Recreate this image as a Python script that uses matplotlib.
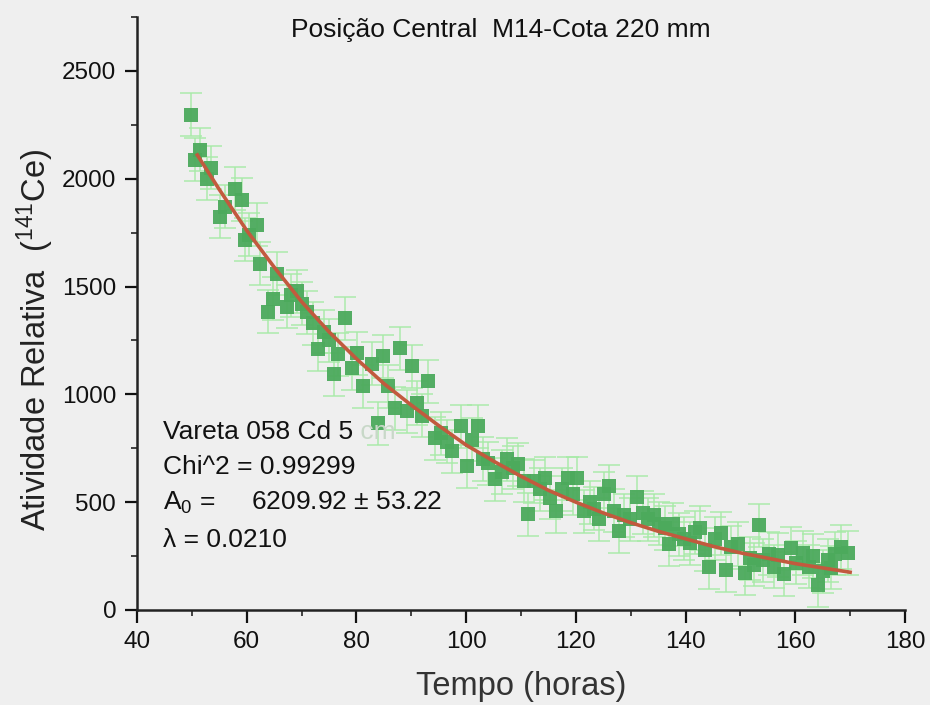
import matplotlib
matplotlib.use("Agg")
import matplotlib.pyplot as plt
from matplotlib.ticker import MultipleLocator

#==============================================================================
# data
#==============================================================================
tempo = [49.8, 50.6, 51.5, 52.7, 53.5, 55.1, 56.0, 57.9, 59.2, 59.7,
         60.5, 61.9, 62.4, 63.9, 64.8, 65.5, 67.4, 68.0, 69.2, 70.0,
         71.0, 72.0, 73.0, 74.0, 75.0, 76.0, 76.7, 78.0, 79.2, 80.1,
         81.2, 82.9, 84.0, 84.9, 85.8, 87.0, 88.0, 89.3, 90.2, 91.0,
         92.0, 93.1, 94.4, 95.5, 96.5, 97.5, 99.0, 100.2, 101.0, 102.2,
         103.0, 104.0, 105.3, 106.5, 107.5, 108.5, 109.5, 110.5, 111.2, 112.3,
         113.5, 114.4, 115.3, 116.3, 117.5, 118.6, 119.5, 120.3, 121.4, 122.5,
         123.3, 124.2, 125.2, 126.0, 127.0, 127.8, 128.8, 129.8, 131.2, 132.2,
         133.2, 134.2, 135.2, 136.2, 136.9, 137.8, 138.8, 139.8, 140.8, 141.7,
         142.7, 143.5, 144.2, 145.3, 146.4, 147.3, 148.3, 149.5, 150.9, 151.8,
         152.5, 153.3, 154.2, 155.2, 156.1, 156.8, 158.0, 159.2, 160.2, 161.5,
         162.5, 163.3, 164.1, 165.0, 165.9, 166.5, 167.3, 168.3, 169.6]
atividade = [2296, 2088, 2134, 2000, 2050, 1824, 1870, 1954, 1903, 1717,
             1740, 1787, 1606, 1384, 1444, 1560, 1407, 1460, 1477, 1420,
             1380, 1330, 1208, 1290, 1250, 1093, 1185, 1352, 1120, 1190,
             1037, 1143, 866, 1176, 1037, 935, 1213, 921, 1130, 960,
             900, 1060, 796, 820, 780, 736, 852, 667, 790, 852,
             700, 680, 606, 640, 699, 660, 676, 600, 444, 597,
             560, 611, 520, 458, 560, 611, 540, 611, 458, 500,
             470, 421, 540, 574, 460, 366, 440, 420, 523, 450,
             420, 440, 400, 380, 306, 398, 350, 330, 310, 360,
             380, 280, 199, 330, 356, 185, 290, 306, 171, 240,
             210, 393, 230, 260, 200, 255, 167, 287, 220, 264,
             200, 250, 116, 180, 231, 195, 260, 292, 264]
erro = 100

# fitted decay curve as drawn in the picture
fit_t = [51, 55, 60, 65, 70, 75, 80, 85, 90, 95, 100, 105, 110, 115, 120,
         125, 130, 135, 140, 145, 150, 155, 160, 165, 170]
fit_y = [2110, 1950, 1760, 1590, 1430, 1290, 1165, 1050, 950, 855, 765, 690,
         620, 555, 500, 450, 405, 365, 330, 295, 265, 240, 215, 195, 175]

texto = ["Vareta 058 Cd 5", "Chi^2 = 0.99299",
         "A$_0$ =     6209.92 \u00b1 53.22", "\u03bb = 0.0210"]

#==============================================================================
# plot
#==============================================================================
plt.rcParams['font.family'] = ['Liberation Sans', 'DejaVu Sans']
plt.rcParams['mathtext.fontset'] = 'custom'
plt.rcParams['mathtext.rm'] = 'Liberation Sans'
plt.rcParams['mathtext.it'] = 'Liberation Sans'

fig = plt.figure(figsize=(9.3, 7.05), dpi=100, facecolor='#efefef')
ax = fig.add_axes([0.1473, 0.1348, 0.8258, 0.8411])
ax.set_facecolor('#efefef')

ax.errorbar(tempo, atividade, yerr=erro, fmt='none', ecolor='#a6eaa6',
            elinewidth=1.2, capsize=8, capthick=1.2, alpha=0.85, zorder=2)
ax.plot(tempo, atividade, 's', color='#4caa5c', markersize=10,
        markeredgewidth=0, alpha=0.95, zorder=3)
ax.plot(fit_t, fit_y, '-', color='#c25a3e', lw=2.6, zorder=4)

ax.set_xlim(40, 180)
ax.set_ylim(0, 2750)
ax.xaxis.set_major_locator(MultipleLocator(20))
ax.xaxis.set_minor_locator(MultipleLocator(10))
ax.yaxis.set_major_locator(MultipleLocator(500))
ax.yaxis.set_minor_locator(MultipleLocator(250))
ax.tick_params(which='major', direction='out', length=9, width=1.6,
               labelsize=17.5, pad=6, colors='#111111')
ax.tick_params(which='minor', direction='out', length=4, width=1.3,
               colors='#333333')
for s in ['top', 'right']:
    ax.spines[s].set_visible(False)
for s in ['left', 'bottom']:
    ax.spines[s].set_linewidth(1.8)
    ax.spines[s].set_color('#222222')

fig.text(0.538, 0.957, "Posi\u00e7\u00e3o Central  M14-Cota 220 mm",
         ha='center', va='center', fontsize=19, color='#111111')

ys = [432, 467, 503, 540]
linhas = []
for s, yp in zip(texto, ys):
    linhas.append(fig.text(163 / 930, 1 - yp / 705, s, ha='left',
                           va='center', fontsize=19, color='#111111'))
ax.annotate(" cm", xy=(1, 0.5), xycoords=linhas[0], ha='left', va='center',
            fontsize=19, color='#c8d8c8')

fig.text(0.0376, 0.518, "Atividade Relativa  ($^{141}$Ce)", rotation=90,
         ha='center', va='center', fontsize=23.5, color='#222222')
fig.text(0.560, 0.026, "Tempo (horas)", ha='center', va='center',
         fontsize=23.5, color='#333333')

plt.savefig("out.png", dpi=100, facecolor=fig.get_facecolor())
